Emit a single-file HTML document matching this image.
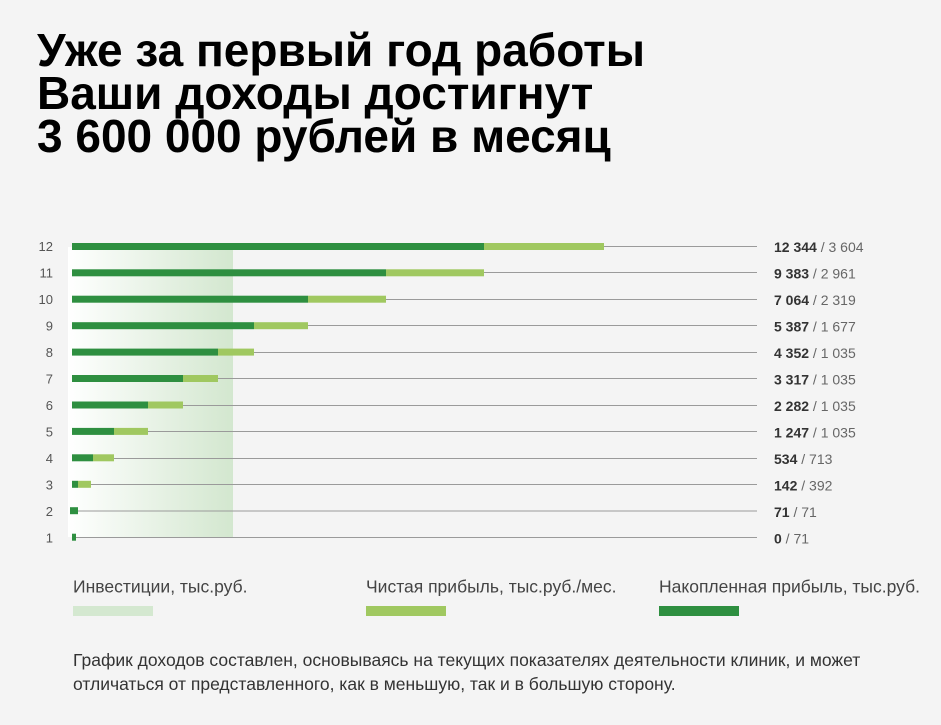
<!DOCTYPE html>
<html><head><meta charset="utf-8"><style>
html,body{margin:0;padding:0;background:#f4f4f4;}
svg{display:block;}
text{font-family:"Liberation Sans","Noto Sans CJK SC",sans-serif;}
</style></head><body>
<svg width="941" height="725" viewBox="0 0 941 725" xmlns="http://www.w3.org/2000/svg">
<defs>
<linearGradient id="g" x1="0" x2="1" y1="0" y2="0">
<stop offset="0" stop-color="#ffffff"/>
<stop offset="0.08" stop-color="#fbfdfb"/>
<stop offset="1" stop-color="#d3e7cf"/>
</linearGradient>
</defs>
<rect width="941" height="725" fill="#f4f4f4"/>
<g font-weight="bold" font-size="46" fill="#000">
<text x="37" y="66">Уже за первый год работы</text>
<text x="37" y="109">Ваши доходы достигнут</text>
<text x="37" y="152">3 600 000 рублей в месяц</text>
</g>
<rect x="68" y="247" width="165" height="290" fill="url(#g)"/>
<g stroke="#9a9a9a" stroke-width="1">
<line x1="72" x2="757" y1="246.5" y2="246.5"/>
<line x1="72" x2="757" y1="272.5" y2="272.5"/>
<line x1="72" x2="757" y1="299.5" y2="299.5"/>
<line x1="72" x2="757" y1="325.5" y2="325.5"/>
<line x1="72" x2="757" y1="352.5" y2="352.5"/>
<line x1="72" x2="757" y1="378.5" y2="378.5"/>
<line x1="72" x2="757" y1="405.5" y2="405.5"/>
<line x1="72" x2="757" y1="431.5" y2="431.5"/>
<line x1="72" x2="757" y1="458.5" y2="458.5"/>
<line x1="72" x2="757" y1="484.5" y2="484.5"/>
<line x1="72" x2="757" y1="511" y2="511"/>
<line x1="72" x2="757" y1="537.5" y2="537.5"/>
</g>
<g fill="#a0c860">
<rect x="484" y="243" width="120" height="7"/>
<rect x="386" y="269.3" width="98" height="7"/>
<rect x="308" y="295.7" width="78" height="7"/>
<rect x="254" y="322.2" width="54" height="7"/>
<rect x="218" y="348.6" width="36" height="7"/>
<rect x="183" y="375" width="35" height="7"/>
<rect x="148" y="401.5" width="35" height="7"/>
<rect x="114" y="427.9" width="34" height="7"/>
<rect x="93" y="454.3" width="21" height="7"/>
<rect x="78" y="480.8" width="13" height="7"/>
</g>
<g fill="#2e8f40">
<rect x="72" y="243" width="412" height="7"/>
<rect x="72" y="269.3" width="314" height="7"/>
<rect x="72" y="295.7" width="236" height="7"/>
<rect x="72" y="322.2" width="182" height="7"/>
<rect x="72" y="348.6" width="146" height="7"/>
<rect x="72" y="375" width="111" height="7"/>
<rect x="72" y="401.5" width="76" height="7"/>
<rect x="72" y="427.9" width="42" height="7"/>
<rect x="72" y="454.3" width="21" height="7"/>
<rect x="72" y="480.8" width="6" height="7"/>
<rect x="70" y="507.2" width="8" height="7"/>
<rect x="72" y="533.7" width="4" height="7"/>
</g>
<g font-size="13" fill="#555" text-anchor="end">
<text x="53" y="251">12</text>
<text x="53" y="277.5">11</text>
<text x="53" y="304">10</text>
<text x="53" y="330.5">9</text>
<text x="53" y="357">8</text>
<text x="53" y="383.5">7</text>
<text x="53" y="410">6</text>
<text x="53" y="436.5">5</text>
<text x="53" y="463">4</text>
<text x="53" y="489.5">3</text>
<text x="53" y="516">2</text>
<text x="53" y="542.5">1</text>
</g>
<g font-size="14" fill="#666">
<text x="774" y="252"><tspan font-weight="bold" fill="#333">12 344</tspan> / 3 604</text>
<text x="774" y="278.5"><tspan font-weight="bold" fill="#333">9 383</tspan> / 2 961</text>
<text x="774" y="305"><tspan font-weight="bold" fill="#333">7 064</tspan> / 2 319</text>
<text x="774" y="331.5"><tspan font-weight="bold" fill="#333">5 387</tspan> / 1 677</text>
<text x="774" y="358"><tspan font-weight="bold" fill="#333">4 352</tspan> / 1 035</text>
<text x="774" y="384.5"><tspan font-weight="bold" fill="#333">3 317</tspan> / 1 035</text>
<text x="774" y="411"><tspan font-weight="bold" fill="#333">2 282</tspan> / 1 035</text>
<text x="774" y="437.5"><tspan font-weight="bold" fill="#333">1 247</tspan> / 1 035</text>
<text x="774" y="464"><tspan font-weight="bold" fill="#333">534</tspan> / 713</text>
<text x="774" y="490.5"><tspan font-weight="bold" fill="#333">142</tspan> / 392</text>
<text x="774" y="517"><tspan font-weight="bold" fill="#333">71</tspan> / 71</text>
<text x="774" y="543.5"><tspan font-weight="bold" fill="#333">0</tspan> / 71</text>
</g>
<g font-size="17.5" fill="#444">
<text x="73" y="592.5">Инвестиции, тыс.руб.</text>
<text x="366" y="592.5">Чистая прибыль, тыс.руб./мес.</text>
<text x="659" y="592.5">Накопленная прибыль, тыс.руб.</text>
</g>
<rect x="73" y="606" width="80" height="10" fill="#d4e8d0"/>
<rect x="366" y="606" width="80" height="10" fill="#a0c860"/>
<rect x="659" y="606" width="80" height="10" fill="#2e8f40"/>
<g font-size="17.5" fill="#333">
<text x="73" y="666">График доходов составлен, основываясь на текущих показателях деятельности клиник, и может</text>
<text x="73" y="690">отличаться от представленного, как в меньшую, так и в большую сторону.</text>
</g>
</svg>
</body></html>
